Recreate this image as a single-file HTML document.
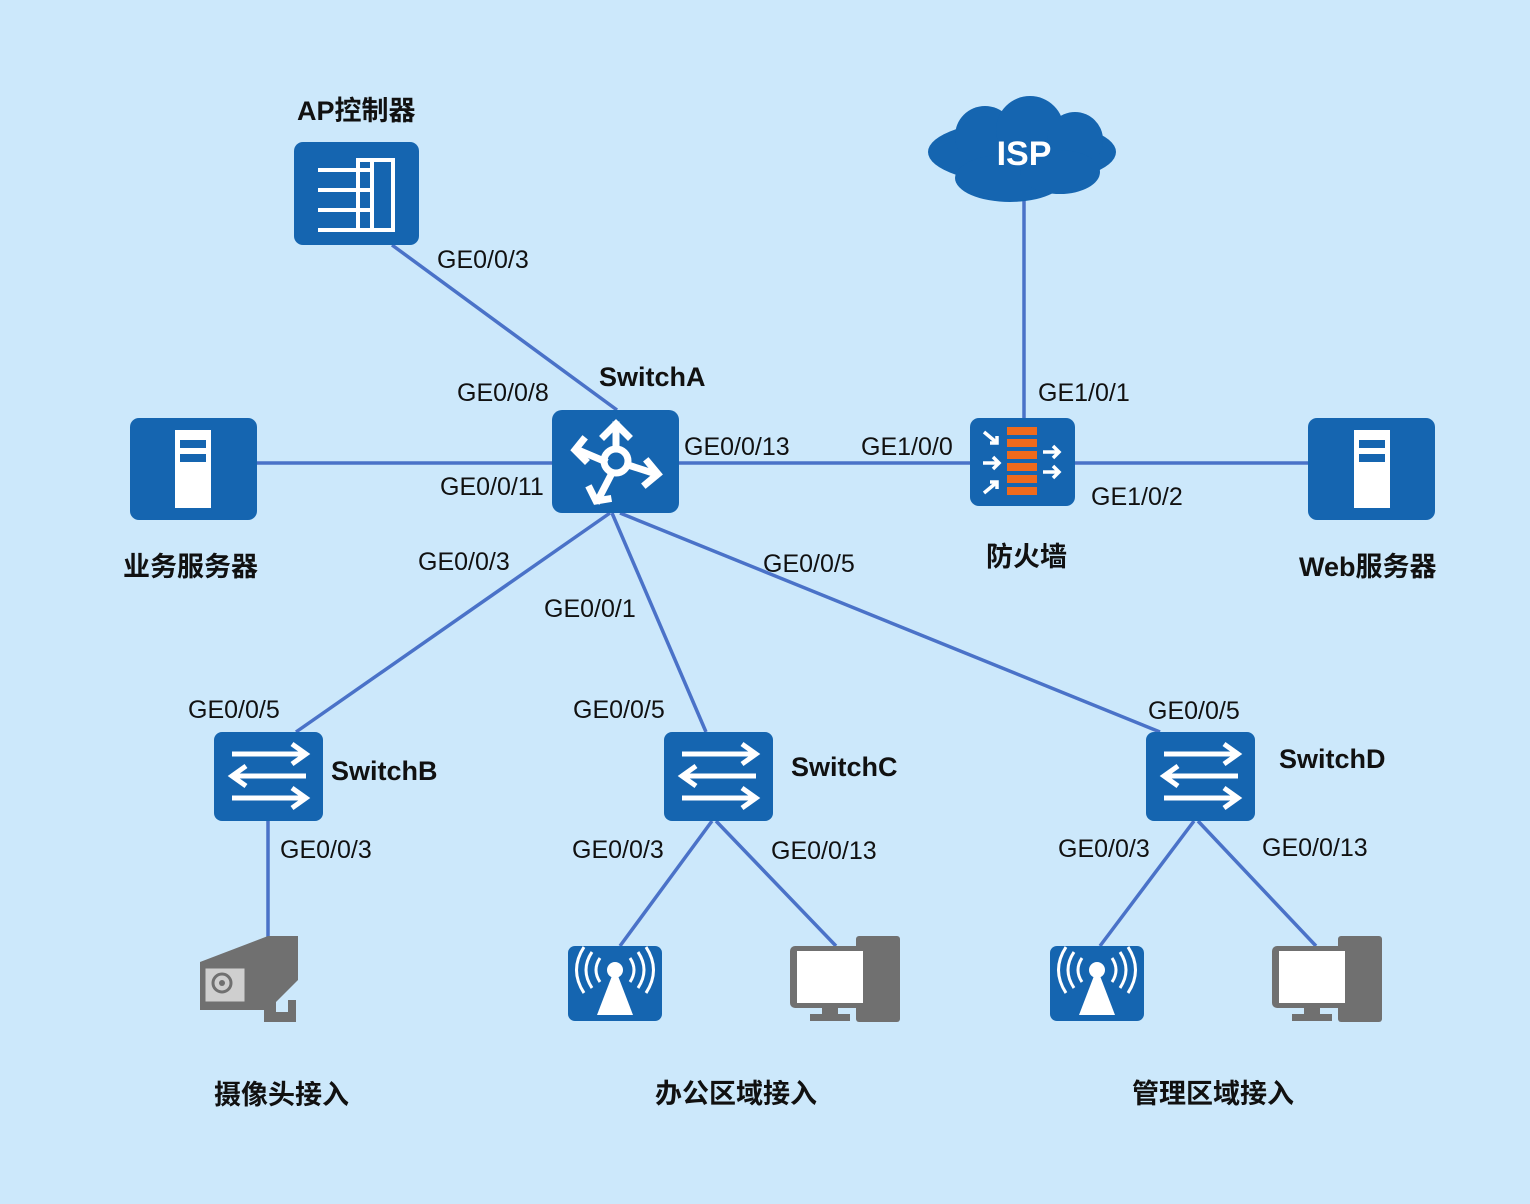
<!DOCTYPE html>
<html><head><meta charset="utf-8"><style>
body{margin:0;background:#cce8fb}
svg{display:block}
.l{font-family:"Liberation Sans","Noto Sans CJK SC",sans-serif;font-size:25px;fill:#111}
.b{font-family:"Liberation Sans","Noto Sans CJK SC",sans-serif;font-size:27px;font-weight:bold;fill:#111}
</style></head><body>
<svg width="1530" height="1204" viewBox="0 0 1530 1204" xmlns="http://www.w3.org/2000/svg">
<rect width="1530" height="1204" fill="#cce8fb"/>
<g stroke="#4a72c8" stroke-width="3.5" fill="none">
<line x1="392" y1="245" x2="617" y2="410"/>
<line x1="257" y1="463" x2="552" y2="463"/>
<line x1="679" y1="463" x2="970" y2="463"/>
<line x1="1075" y1="463" x2="1308" y2="463"/>
<line x1="1024" y1="200" x2="1024" y2="418"/>
<line x1="610" y1="513" x2="296" y2="732"/>
<line x1="612" y1="513" x2="706" y2="732"/>
<line x1="620" y1="513" x2="1160" y2="732"/>
<line x1="268" y1="821" x2="268" y2="940"/>
<line x1="712" y1="821" x2="620" y2="946"/>
<line x1="716" y1="821" x2="836" y2="946"/>
<line x1="1194" y1="821" x2="1100" y2="946"/>
<line x1="1198" y1="821" x2="1316" y2="946"/>
</g>
<!-- ISP cloud -->
<g fill="#1565b0">
<ellipse cx="1022" cy="152" rx="94" ry="32"/>
<circle cx="985" cy="136" r="30"/>
<circle cx="1030" cy="130" r="34"/>
<circle cx="1075" cy="140" r="28"/>
<ellipse cx="1010" cy="178" rx="55" ry="24"/>
<ellipse cx="1060" cy="172" rx="40" ry="22"/>
</g>
<text x="1024" y="165" text-anchor="middle" font-family="Liberation Sans" font-weight="bold" font-size="34" fill="#fff">ISP</text>
<!-- AP controller -->
<rect x="294" y="142" width="125" height="103" rx="9" fill="#1565b0"/>
<g stroke="#fff" stroke-width="4" fill="none">
<rect x="358" y="160" width="35" height="70"/>
<line x1="318" y1="170" x2="372" y2="170"/><line x1="318" y1="190" x2="372" y2="190"/>
<line x1="318" y1="210" x2="372" y2="210"/><line x1="318" y1="230" x2="372" y2="230"/>
<line x1="372" y1="160" x2="372" y2="230"/>
</g>
<!-- SwitchA router -->
<rect x="552" y="410" width="127" height="103" rx="10" fill="#1565b0"/>
<g stroke="#fff" stroke-width="7" fill="none" stroke-linecap="square">
<circle cx="616" cy="461" r="12"/>
<line x1="616" y1="449" x2="616" y2="425"/><polyline points="604,436 616,424 628,436"/>
<line x1="604" y1="461" x2="578" y2="450"/><polyline points="583,440 575,450 585,460"/>
<line x1="628" y1="465" x2="656" y2="474"/><polyline points="648,462 658,474 646,484"/>
<line x1="612" y1="473" x2="598" y2="500"/><polyline points="590,489 596,501 608,499"/>
</g>
<!-- servers -->
<g>
<rect x="130" y="418" width="127" height="102" rx="9" fill="#1565b0"/>
<rect x="175" y="430" width="36" height="78" fill="#fff"/>
<rect x="180" y="440" width="26" height="8" fill="#1565b0"/><rect x="180" y="454" width="26" height="8" fill="#1565b0"/>
<rect x="1308" y="418" width="127" height="102" rx="9" fill="#1565b0"/>
<rect x="1354" y="430" width="36" height="78" fill="#fff"/>
<rect x="1359" y="440" width="26" height="8" fill="#1565b0"/><rect x="1359" y="454" width="26" height="8" fill="#1565b0"/>
</g>
<!-- firewall -->
<rect x="970" y="418" width="105" height="88" rx="9" fill="#1565b0"/>
<g fill="#ef6a1c">
<rect x="1007" y="427" width="30" height="8"/><rect x="1007" y="439" width="30" height="8"/><rect x="1007" y="451" width="30" height="8"/>
<rect x="1007" y="463" width="30" height="8"/><rect x="1007" y="475" width="30" height="8"/><rect x="1007" y="487" width="30" height="8"/>
</g>
<g stroke="#fff" stroke-width="3.5" fill="none">
<line x1="984" y1="432" x2="996" y2="442"/><polyline points="990,443 997,443 997,436"/>
<line x1="983" y1="463" x2="998" y2="463"/><polyline points="993,457 999,463 993,469"/>
<line x1="984" y1="493" x2="996" y2="483"/><polyline points="990,482 997,482 997,489"/>
<line x1="1043" y1="452" x2="1058" y2="452"/><polyline points="1053,446 1059,452 1053,458"/>
<line x1="1043" y1="472" x2="1058" y2="472"/><polyline points="1053,466 1059,472 1053,478"/>
</g>
<!-- switches -->
<g id="sw">
<rect x="214" y="732" width="109" height="89" rx="8" fill="#1565b0"/>
<g stroke="#fff" stroke-width="5" fill="none">
<line x1="232" y1="754" x2="306" y2="754"/><polyline points="292,744 306,754 292,764"/>
<line x1="232" y1="776" x2="306" y2="776"/><polyline points="246,766 232,776 246,786"/>
<line x1="232" y1="798" x2="306" y2="798"/><polyline points="292,788 306,798 292,808"/>
</g>
</g>
<use href="#sw" x="450"/><use href="#sw" x="932"/>
<!-- camera -->
<g fill="#707070">
<polygon points="200,962 268,936 298,936 298,980 268,1010 200,1010"/>
<rect x="264" y="990" width="12" height="30"/><rect x="264" y="1012" width="32" height="10"/><rect x="288" y="1000" width="8" height="22"/>
</g>
<rect x="205" y="968" width="40" height="34" fill="#cfcfcf" stroke="#707070"/>
<circle cx="222" cy="983" r="9" fill="none" stroke="#707070" stroke-width="3"/><circle cx="222" cy="983" r="3" fill="#707070"/>
<!-- AP icons -->
<g id="ap">
<rect x="568" y="946" width="94" height="75" rx="7" fill="#1565b0"/>
<polygon points="615,968 597,1015 633,1015" fill="#fff"/><circle cx="615" cy="970" r="8" fill="#fff"/>
<g stroke="#fff" stroke-width="3" fill="none">
<path d="M600 958 q-8 12 0 24"/><path d="M592 952 q-12 18 0 36"/><path d="M584 947 q-15 23 0 46"/>
<path d="M630 958 q8 12 0 24"/><path d="M638 952 q12 18 0 36"/><path d="M646 947 q15 23 0 46"/>
</g>
</g>
<use href="#ap" x="482"/>
<!-- PCs -->
<g id="pc">
<rect x="856" y="936" width="44" height="86" rx="3" fill="#707070"/>
<rect x="790" y="946" width="80" height="62" rx="5" fill="#707070"/>
<rect x="797" y="951" width="66" height="52" fill="#fff"/>
<rect x="822" y="1008" width="16" height="6" fill="#707070"/><rect x="810" y="1014" width="40" height="7" fill="#707070"/>
</g>
<use href="#pc" x="482"/>
<!-- labels -->
<g class="l">
<text x="437" y="268">GE0/0/3</text>
<text x="457" y="401">GE0/0/8</text>
<text x="440" y="495">GE0/0/11</text>
<text x="684" y="455">GE0/0/13</text>
<text x="861" y="455">GE1/0/0</text>
<text x="1038" y="401">GE1/0/1</text>
<text x="1091" y="505">GE1/0/2</text>
<text x="418" y="570">GE0/0/3</text>
<text x="544" y="617">GE0/0/1</text>
<text x="763" y="572">GE0/0/5</text>
<text x="188" y="718">GE0/0/5</text>
<text x="573" y="718">GE0/0/5</text>
<text x="1148" y="719">GE0/0/5</text>
<text x="280" y="858">GE0/0/3</text>
<text x="572" y="858">GE0/0/3</text>
<text x="771" y="859">GE0/0/13</text>
<text x="1058" y="857">GE0/0/3</text>
<text x="1262" y="856">GE0/0/13</text>
</g>
<g class="b">
<text x="297" y="120">AP控制器</text>
<text x="599" y="386">SwitchA</text>
<text x="123" y="576">业务服务器</text>
<text x="986" y="566">防火墙</text>
<text x="1299" y="576">Web服务器</text>
<text x="331" y="780">SwitchB</text>
<text x="791" y="776">SwitchC</text>
<text x="1279" y="768">SwitchD</text>
<text x="214" y="1104">摄像头接入</text>
<text x="655" y="1103">办公区域接入</text>
<text x="1132" y="1103">管理区域接入</text>
</g>
</svg>
</body></html>
